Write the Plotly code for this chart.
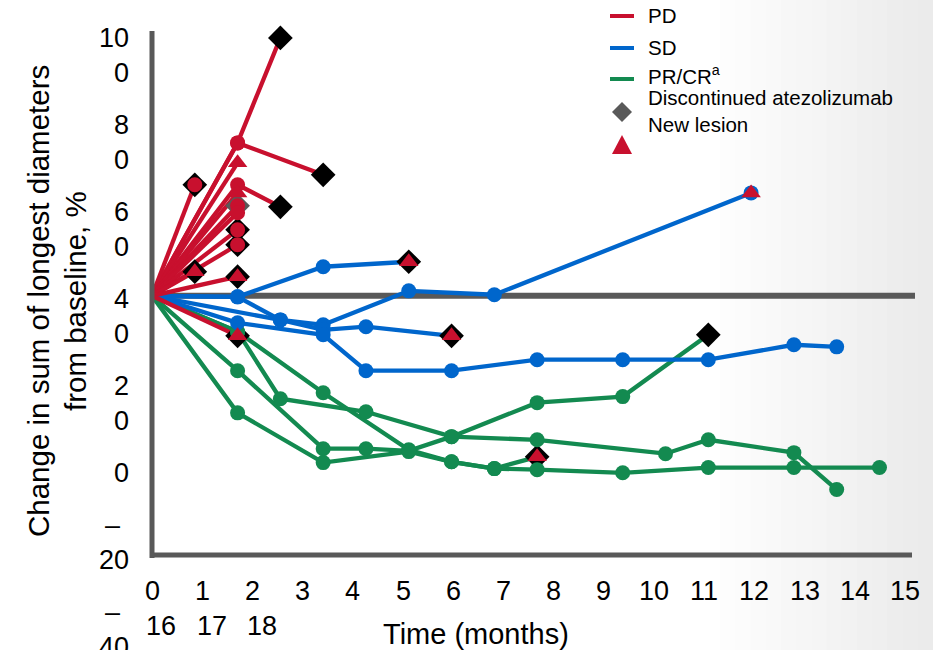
import plotly.graph_objects as go

# ---------------- data (months since baseline, % change) ----------------
PD_MONTHS = [[0, 2, 3], [0, 2, 4], [0, 2], [0, 1], [0, 2, 3], [0, 2], [0, 2], [0, 2],
             [0, 2], [0, 2], [0, 1], [0, 2], [0, 2]]
PD_VALUES = [[0, 58.4, 98.5], [0, 58.4, 46.2], [0, 50.8], [0, 42.4], [0, 42.4, 34.0],
             [0, 39.3], [0, 34.4], [0, 31.7], [0, 25.2], [0, 19.5], [0, 9.2], [0, 7.3], [0, -15.3]]
PD_END = ["D", "D", "T", "CD", "D", "T", "CG", "C", "CD", "CD", "TD", "TD", "TD"]

SD_MONTHS = [[0, 2, 4, 6], [0, 2, 3, 4, 6, 8, 14], [0, 3, 4, 5, 7],
             [0, 2, 4, 5, 7, 9, 11, 13, 15, 16]]
SD_VALUES = [[0, -0.4, 11.1, 13.0], [0, -0.4, -9.2, -11.1, 1.9, 0.4, 39.3],
             [0, -9.2, -13.0, -11.8, -15.3],
             [0, -10.3, -14.9, -28.6, -28.6, -24.4, -24.4, -24.4, -18.7, -19.5]]
SD_END = ["TD", "CT", "TD", "C"]

PR_MONTHS = [[0, 2, 3, 5, 7, 9, 12, 13, 15, 16], [0, 2, 4, 6, 7, 8, 9],
             [0, 2, 4, 5, 6, 7, 9, 11, 13], [0, 2, 4, 6, 7, 8, 9, 11, 13, 15, 17]]
PR_VALUES = [[0, -13.7, -39.3, -44.3, -53.8, -55.0, -60.3, -55.0, -59.9, -74.0],
             [0, -13.7, -37.0, -58.8, -63.4, -66.0, -61.5],
             [0, -28.6, -58.4, -58.4, -59.2, -53.8, -40.8, -38.5, -14.9],
             [0, -44.7, -63.7, -59.5, -63.4, -66.0, -66.4, -67.6, -65.6, -65.6, -65.6]]
PR_END = ["C", "TD", "D", "C"]

Y_TICK_LINES = [["10", "0"], ["8", "0"], ["6", "0"], ["4", "0"], ["2", "0"], ["0"],
                ["–", "20"], ["–", "40"]]
X_TICK_LABELS = ["0", "1", "2", "3", "4", "5", "6", "7", "8", "9", "10", "11", "12",
                 "13", "14", "15", "16", "17", "18"]
LEGEND_LABELS = ["PD", "SD", "PR/CR<sup>a</sup>", "Discontinued atezolizumab", "New lesion"]
Y_TITLE = ["Change in sum of longest diameters", "from baseline, %"]
X_TITLE = "Time (months)"

# ---------------- styling / layout ----------------
RED, BLUE, GREEN, GREY = "#C8102E", "#0066CC", "#138A50", "#595959"
FONT = "Liberation Sans, Arial, sans-serif"
W, H = 933, 650
PL, PR, PT, PB = 152, 912, 34, 555
X_MAX = 17.76
Y_MIN, Y_MAX = -99, 100


def fx(px):
    return (px - PL) / (PR - PL)


def fy(py):
    return (PB - py) / (PB - PT)


fig = go.Figure()

groups = [(PR_MONTHS, PR_VALUES, PR_END, GREEN),
          (SD_MONTHS, SD_VALUES, SD_END, BLUE),
          (PD_MONTHS, PD_VALUES, PD_END, RED)]

# lines
for months, values, ends, col in groups:
    for m, v in zip(months, values):
        fig.add_trace(go.Scatter(x=m, y=v, mode="lines",
                                 line=dict(color=col, width=4.3),
                                 hoverinfo="skip", showlegend=False, cliponaxis=False))

# discontinuation diamonds (behind circles)
for months, values, ends, col in groups:
    for m, v, e in zip(months, values, ends):
        if "D" in e or "G" in e:
            fig.add_trace(go.Scatter(
                x=[m[-1]], y=[v[-1]], mode="markers", cliponaxis=False,
                marker=dict(symbol="diamond", size=19,
                            color=GREY if "G" in e else "#000000", line=dict(width=0)),
                hoverinfo="skip", showlegend=False))

# visit circles
for months, values, ends, col in groups:
    xs, ys = [], []
    for m, v, e in zip(months, values, ends):
        last = len(m) - 1
        for i in range(1, len(m)):
            if i == last and e in ("D", "T", "TD"):
                continue
            xs.append(m[i])
            ys.append(v[i])
    fig.add_trace(go.Scatter(x=xs, y=ys, mode="markers", cliponaxis=False,
                             marker=dict(symbol="circle", size=15, color=col, line=dict(width=0)),
                             hoverinfo="skip", showlegend=False))

# new-lesion triangles
tx, ty = [], []
for months, values, ends, col in groups:
    for m, v, e in zip(months, values, ends):
        if "T" in e:
            tx.append(m[-1])
            ty.append(v[-1])
fig.add_trace(go.Scatter(x=tx, y=ty, mode="markers", cliponaxis=False,
                         marker=dict(symbol="triangle-up", size=17, color=RED, line=dict(width=0)),
                         hoverinfo="skip", showlegend=False))

shapes = []
# background gradient on the right
n = 14
for i in range(n):
    x0 = 720 + i * (W - 720) / n
    x1 = 720 + (i + 1) * (W - 720) / n + 1
    g = int(255 - (i + 1) * 20 / n)
    shapes.append(dict(type="rect", xref="paper", yref="paper", x0=fx(x0), x1=fx(x1),
                       y0=fy(H), y1=fy(0), fillcolor=f"rgb({g},{g},{g})",
                       line=dict(width=0), layer="below"))
shapes.append(dict(type="line", xref="paper", yref="y", x0=0, x1=fx(915), y0=0, y1=0,
                   line=dict(color=GREY, width=6), layer="below"))
shapes.append(dict(type="line", xref="paper", yref="paper", x0=0, x1=0, y0=fy(558), y1=fy(31),
                   line=dict(color=GREY, width=5)))
shapes.append(dict(type="line", xref="paper", yref="paper", x0=fx(150), x1=1, y0=0, y1=0,
                   line=dict(color=GREY, width=5)))

# legend glyphs
for py, col in [(16, RED), (48, BLUE), (79, GREEN)]:
    shapes.append(dict(type="line", xref="paper", yref="paper", x0=fx(610), x1=fx(634),
                       y0=fy(py), y1=fy(py), line=dict(color=col, width=4)))
shapes.append(dict(type="path", xref="paper", yref="paper",
                   path=f"M{fx(622)},{fy(102)} L{fx(632)},{fy(112)} L{fx(622)},{fy(122)} L{fx(612)},{fy(112)} Z",
                   fillcolor=GREY, line=dict(width=0)))
shapes.append(dict(type="path", xref="paper", yref="paper",
                   path=f"M{fx(622)},{fy(135)} L{fx(632)},{fy(154)} L{fx(612)},{fy(154)} Z",
                   fillcolor=RED, line=dict(width=0)))

ann = []
TICK_SIZE = 27
# y tick labels (wrapped as in the original, flowing down the axis)
yc = 38
for lines in Y_TICK_LINES:
    for t in lines:
        if t == "–":
            ann.append(dict(text=t, xref="paper", yref="paper", x=fx(112), y=fy(yc),
                            xanchor="center", yanchor="middle", showarrow=False,
                            font=dict(size=TICK_SIZE, family=FONT, color="#000")))
        else:
            ann.append(dict(text=t, xref="paper", yref="paper", x=fx(131), y=fy(yc),
                            xanchor="right", yanchor="middle", showarrow=False,
                            font=dict(size=TICK_SIZE, family=FONT, color="#000")))
        yc += 35
    yc += 17
# x tick labels (wrapped into two rows)
for i, t in enumerate(X_TICK_LABELS):
    if i < 16:
        xc, yv = 152 + i * 50.2, 591
    else:
        xc, yv = 161 + (i - 16) * 50.5, 626
    ann.append(dict(text=t, xref="paper", yref="paper", x=fx(xc), y=fy(yv),
                    xanchor="center", yanchor="middle", showarrow=False,
                    font=dict(size=TICK_SIZE, family=FONT, color="#000")))
# axis titles
ann.append(dict(text=X_TITLE, xref="paper", yref="paper", x=fx(476), y=fy(634),
                xanchor="center", yanchor="middle", showarrow=False,
                font=dict(size=29, family=FONT, color="#000")))
for j, t in enumerate(Y_TITLE):
    ann.append(dict(text=t, xref="paper", yref="paper", x=fx(38 + j * 37), y=fy(301),
                    xanchor="center", yanchor="middle", textangle=-90, showarrow=False,
                    font=dict(size=29.5, family=FONT, color="#000")))
# legend texts
for t, py in zip(LEGEND_LABELS, [16, 48, 75, 98, 124]):
    ann.append(dict(text=t, xref="paper", yref="paper", x=fx(646), y=fy(py),
                    xanchor="left", yanchor="middle", showarrow=False,
                    font=dict(size=20.5, family=FONT, color="#000")))

fig.update_layout(
    width=W, height=H,
    margin=dict(l=PL, r=W - PR, t=PT, b=H - PB, pad=0),
    paper_bgcolor="white", plot_bgcolor="rgba(0,0,0,0)",
    xaxis=dict(range=[0, X_MAX], visible=False, showgrid=False, zeroline=False),
    yaxis=dict(range=[Y_MIN, Y_MAX], visible=False, showgrid=False, zeroline=False),
    shapes=shapes, annotations=ann, showlegend=False,
)

fig.write_html("out.html")
